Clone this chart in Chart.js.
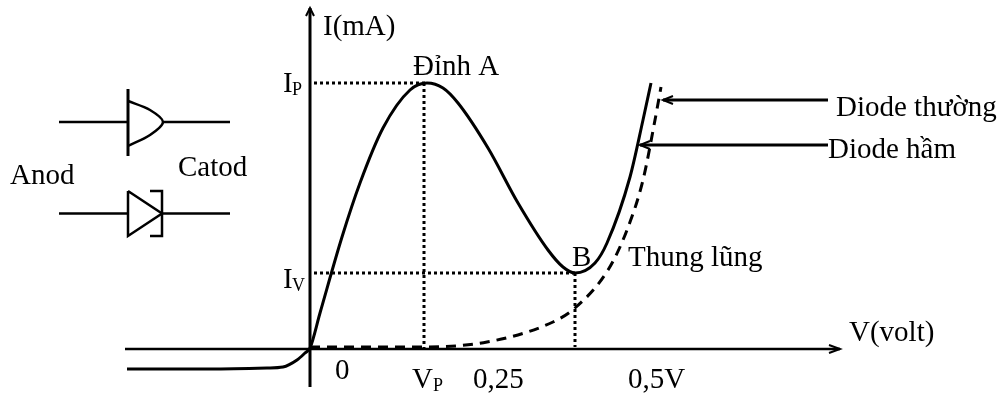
<!Doctype html>
<html>
  <head>
    <meta charset="utf-8"/>
    <style type="text/css">
      body {
        margin: 0px;
        padding: 0px;
        background-color: #ffffff;
      }
      #container {
        width: 1001px;
        height: 394px;
      }
    </style>
  </head>
  <body>
    <div id="container"><canvas id="chart" width="1001" height="394"></canvas></div>
  </body>
  <script src="https://cdn.jsdelivr.net/npm/chart.js@4"></script>
  <script>
    // diagram units: origin of the I/V axes = (0,0), 1 unit = 1 px, y up
    var tunnelX = [-183, -100, -43, -27, -13, -5, 0, 10, 32, 50, 73, 100, 117, 133, 148, 178, 208, 238, 253, 265, 285, 297, 320, 333, 341];
    var tunnelY = [-20, -20, -19, -18, -11, -4, 1, 36, 112, 166, 221, 259, 266, 261, 246, 201, 146, 99, 82, 76, 86, 106, 172, 229, 266];
    var normalX = [0, 110, 177, 243, 265, 298, 317, 333, 345, 351];
    var normalY = [2, 2, 7, 27, 41, 79, 119, 169, 229, 262];

    var axisVX = [-185, 530];
    var axisVY = [0, 0];
    var axisIX = [0, 0];
    var axisIY = [-38, 341];

    var peakHX = [4, 118], peakHY = [266, 266];
    var peakVX = [114, 114], peakVY = [266, 0];
    var valleyHX = [4, 265], valleyHY = [76, 76];
    var valleyVX = [265, 265], valleyVY = [76, 2];

    var anodLeftX = [-251, -182], diode1Y = [227, 227];
    var diode1BarX = [-182, -182], diode1BarY = [193, 260];
    var diode1BodyX = [-182, -160, -147, -160, -182], diode1BodyY = [248, 239, 227, 214, 203];
    var diode1RightX = [-147, -80];
    var diode2LeftX = [-251, -182], diode2Y = [135.5, 135.5];
    var diode2BodyX = [-182, -182, -148, -182], diode2BodyY = [158, 113, 135.5, 158];
    var diode2BracketX = [-160, -148, -148, -160], diode2BracketY = [158, 158, 113, 113];
    var diode2RightX = [-148, -80];

    var normalPointerX = [353, 518], normalPointerY = [249, 249];
    var tunnelPointerX = [330, 518], tunnelPointerY = [204, 204];

    var labels = ['I(mA)', 'Đỉnh A', 'Anod', 'Catod', 'B', 'Thung lũng', 'Diode thường', 'Diode hầm', 'V(volt)', '0', '0,25', '0,5V'];
    var currentMarks = ['I', 'I'];
    var voltageMarks = ['V'];

    function line(xs, ys, width, dash, tension) {
      return {
        data: xs.map(function(x, i) { return {x: x, y: ys[i]}; }),
        showLine: true,
        fill: false,
        borderColor: '#000000',
        borderWidth: width,
        borderDash: dash || [],
        tension: tension || 0,
        pointRadius: 0
      };
    }

    function curve(xs, ys, width, dash) {
      var d = line(xs, ys, width, dash);
      d.cubicInterpolationMode = 'monotone';
      return d;
    }

    // open chevron arrow head
    function headH(tipX, tipY, back, spread) {
      return line([tipX + back, tipX, tipX + back], [tipY + spread, tipY, tipY - spread], 2);
    }
    function headV(tipX, tipY, back, spread) {
      return line([tipX - spread, tipX, tipX + spread], [tipY + back, tipY, tipY + back], 2);
    }

    var textPlugin = {
      id: 'diagramText',
      afterDraw: function(chart) {
        var ctx = chart.ctx, sx = chart.scales.x, sy = chart.scales.y;
        function put(text, x, y, size) {
          ctx.font = size + 'px "Liberation Serif"';
          ctx.fillStyle = '#000000';
          ctx.textBaseline = 'alphabetic';
          ctx.fillText(text, sx.getPixelForValue(x), sy.getPixelForValue(y));
        }
        var main = 29, sub = 18;
        put(labels[0], 13, 314, main);
        put(labels[1], 103, 274, main);
        put(labels[2], -300, 165, main);
        put(labels[3], -132, 173, main);
        put(labels[4], 262, 83, main);
        put(labels[5], 318, 83, main);
        put(labels[6], 526, 233, main);
        put(labels[7], 518, 191, main);
        put(labels[8], 539, 8, main);
        put(labels[9], 25, -30, main);
        put(labels[10], 163, -39, main);
        put(labels[11], 318, -39, main);
        put(currentMarks[0], -27, 257, main);
        put('P', -18, 254, sub);
        put(currentMarks[1], -27, 61, main);
        put('V', -18, 58, sub);
        put(voltageMarks[0], 102, -39, main);
        put('P', 123, -42, sub);
      }
    };

    var datasets = [
      line(axisVX, axisVY, 2.5),
      line(axisIX, axisIY, 3),
      headH(530, 0, -11, 4),
      headV(0, 341, -8, 4),
      line(peakHX, peakHY, 3, [3, 3]),
      line(peakVX, peakVY, 3, [3, 3]),
      line(valleyHX, valleyHY, 3, [3, 3]),
      line(valleyVX, valleyVY, 3, [3, 3]),
      curve(tunnelX, tunnelY, 3),
      curve(normalX, normalY, 3, [10, 7]),
      line(anodLeftX, diode1Y, 2.5),
      line(diode1BarX, diode1BarY, 3),
      line(diode1BodyX, diode1BodyY, 2.5, [], 0.3),
      line(diode1RightX, diode1Y, 2.5),
      line(diode2LeftX, diode2Y, 2.5),
      line(diode2BodyX, diode2BodyY, 2.5),
      line(diode2BracketX, diode2BracketY, 2.5),
      line(diode2RightX, diode2Y, 2.5),
      line(normalPointerX, normalPointerY, 3),
      line(tunnelPointerX, tunnelPointerY, 3),
      headH(353, 249, 10, 4),
      headH(330, 204, 10, 4)
    ];

    var chart = new Chart(document.getElementById('chart'), {
      type: 'scatter',
      data: {datasets: datasets},
      plugins: [textPlugin],
      options: {
        responsive: false,
        animation: false,
        layout: {padding: 0},
        plugins: {legend: {display: false}, tooltip: {enabled: false}},
        scales: {
          x: {type: 'linear', display: false, min: -310, max: 691},
          y: {type: 'linear', display: false, min: -45, max: 349}
        }
      }
    });
  </script>
</html>
